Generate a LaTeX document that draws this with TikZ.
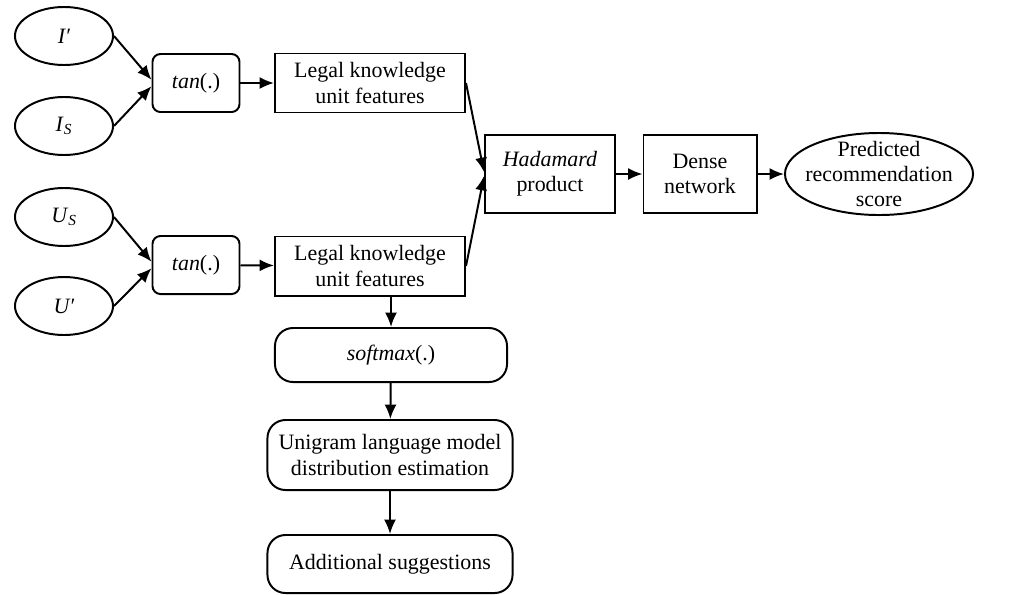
\documentclass[tikz,border=0pt]{standalone}
\usepackage{fontspec}
\setmainfont{Liberation Serif}
\usetikzlibrary{shapes.geometric,arrows.meta}

\tikzset{
    every node/.style={font=\fontsize{15.6}{18}\selectfont, align=center},
    inputnode/.style={draw, ellipse, line width=1.4pt, inner sep=0pt,
        minimum width=2.45cm, minimum height=1.45cm},
    tanbox/.style={draw, rounded corners=0.2cm, line width=1.4pt, inner sep=0pt,
        minimum width=2.175cm, minimum height=1.45cm},
    unitbox/.style={draw, line width=1.4pt, inner sep=0pt,
        minimum width=4.75cm, minimum height=1.475cm},
    stagebox/.style={draw, line width=1.4pt, inner sep=0pt, minimum height=1.95cm},
    roundbox/.style={draw, rounded corners=0.45cm, line width=1.4pt, inner sep=0pt,
        minimum width=6.125cm},
    flow/.style={-{Latex[length=0.36cm,width=0.3cm]}, line width=1.4pt}
}

\begin{document}
\begin{tikzpicture}[x=0.025cm, y=-0.025cm]
        \useasboundingbox (0,0) rectangle (1030,594);

        % Inputs
        \node[inputnode] (ip) at (64,36) {\textit{I′}};
        \node[inputnode] (is) at (64,126) {\textit{I}\textsubscript{\textit{S}}};
        \node[inputnode] (us) at (64,217) {\textit{U}\textsubscript{\textit{S}}};
        \node[inputnode] (up) at (64,306) {\textit{U′}};

        % Activation boxes
        \node[tanbox] (tan1) at (196,83) {\textit{tan}(.)};
        \node[tanbox] (tan2) at (196,265) {\textit{tan}(.)};

        % Feature boxes
        \node[unitbox] (leg1) at (370,83) {Legal knowledge\\unit features};
        \node[unitbox] (leg2) at (370,266) {Legal knowledge\\unit features};

        % Right branch
        \node[stagebox, minimum width=3.25cm] (had) at (550,174) {\textit{Hadamard}\\product};
        \node[stagebox, minimum width=2.825cm] (dense) at (700,174) {Dense\\network};
        \node[draw, ellipse, line width=1.4pt, inner xsep=-0.25cm, inner ysep=-0.2cm,
            minimum width=4.7cm, minimum height=2.05cm] (score) at (879,174)
            {Predicted\\recommendation\\score};

        % Lower branch
        \node[roundbox, minimum width=5.8cm, minimum height=1.35cm] (soft) at (391,355) {\textit{softmax}(.)};
        \node[roundbox, minimum height=1.75cm] (uni) at (390,455) {Unigram language model\\distribution estimation};
        \node[roundbox, minimum height=1.45cm] (add) at (390,564) {Additional suggestions};

        % Arrows
        \draw[flow] (ip.east) -- ([yshift=0.08cm]tan1.west);
        \draw[flow] (is.east) -- ([yshift=-0.08cm]tan1.west);
        \draw[flow] (us.east) -- ([yshift=0.08cm]tan2.west);
        \draw[flow] (up.east) -- ([yshift=-0.08cm]tan2.west);
        \draw[flow] (tan1) -- (leg1);
        \draw[flow] (tan2) -- (leg2);
        \draw[flow] (leg1.east) -- ([yshift=0.05cm]had.west);
        \draw[flow] (leg2.east) -- ([yshift=-0.05cm]had.west);
        \draw[flow] (had) -- (dense);
        \draw[flow] (dense) -- (score);
        \draw[flow] (leg2.south -| soft.north) -- (soft.north);
        \draw[flow] (soft) -- (uni);
        \draw[flow] (uni) -- (add);

\end{tikzpicture}
\end{document}
